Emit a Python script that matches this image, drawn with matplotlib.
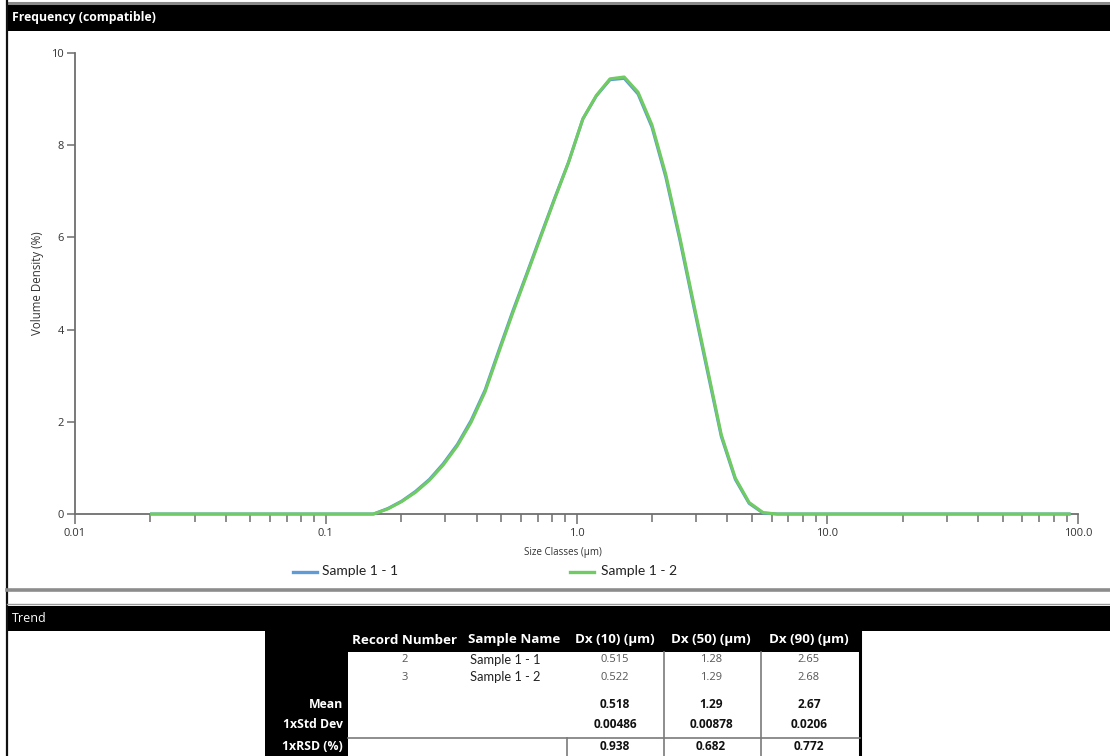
import matplotlib
matplotlib.use("Agg")
import matplotlib.pyplot as plt
from matplotlib.patches import Rectangle
from matplotlib.lines import Line2D
from matplotlib.ticker import FixedLocator, FixedFormatter, NullFormatter

# ---- particle size distribution (class mid-points, µm) ----
size_classes = [
    0.0202, 0.0229, 0.0260, 0.0296, 0.0336, 0.0382, 0.0434, 0.0493, 0.0561,
    0.0636, 0.0724, 0.0822, 0.0934, 0.106, 0.120, 0.137, 0.155, 0.177, 0.201,
    0.228, 0.259, 0.294, 0.335, 0.380, 0.432, 0.491, 0.557, 0.633, 0.719,
    0.818, 0.929, 1.06, 1.20, 1.36, 1.55, 1.76, 2.00, 2.27, 2.58, 2.93, 3.33,
    3.78, 4.30, 4.88, 5.55, 6.31, 7.17, 8.14, 9.25, 10.5, 11.9, 13.6, 15.4,
    17.5, 19.9, 22.6, 25.7, 29.2, 33.2, 37.7, 42.8, 48.6, 55.2, 62.7, 71.3,
    81.0, 92.1,
]

sample_1_1 = [
    0, 0, 0, 0, 0, 0, 0, 0, 0, 0, 0, 0, 0, 0, 0, 0, 0, 0.12, 0.28,
    0.49, 0.75, 1.09, 1.51, 2.03, 2.69, 3.56, 4.40, 5.21, 6.03,
    6.85, 7.63, 8.57, 9.07, 9.42, 9.45, 9.11, 8.39, 7.31, 5.96, 4.52, 3.09,
    1.68, 0.75, 0.23, 0.02, 0, 0, 0, 0, 0, 0, 0, 0,
    0, 0, 0, 0, 0, 0, 0, 0, 0, 0, 0, 0,
    0, 0,
]

sample_1_2 = [
    0, 0, 0, 0, 0, 0, 0, 0, 0, 0, 0, 0, 0, 0, 0, 0, 0, 0.11, 0.27,
    0.47, 0.73, 1.06, 1.48, 1.99, 2.65, 3.52, 4.36, 5.18, 6.00,
    6.83, 7.62, 8.57, 9.08, 9.44, 9.48, 9.15, 8.44, 7.37, 6.02, 4.58, 3.15,
    1.72, 0.78, 0.25, 0.03, 0, 0, 0, 0, 0, 0, 0, 0,
    0, 0, 0, 0, 0, 0, 0, 0, 0, 0, 0, 0,
    0, 0,
]

x_major = [0.01, 0.1, 1.0, 10.0, 100.0]
x_major_labels = ["0.01", "0.1", "1.0", "10.0", "100.0"]
y_major = [0, 2, 4, 6, 8, 10]

# ---- trend table ----
table_columns = ["Record Number", "Sample Name", "Dx (10) (µm)", "Dx (50) (µm)", "Dx (90) (µm)"]
record_numbers = ["2", "3"]
sample_names = ["Sample 1 - 1", "Sample 1 - 2"]
dx10 = ["0.515", "0.522"]
dx50 = ["1.28", "1.29"]
dx90 = ["2.65", "2.68"]
stat_labels = ["Mean", "1xStd Dev", "1xRSD (%)"]
stat_mean = ["0.518", "1.29", "2.67"]
stat_std = ["0.00486", "0.00878", "0.0206"]
stat_rsd = ["0.938", "0.682", "0.772"]

BLUE = "#5f9bd6"
GREEN = "#6fcb62"
AXIS = "#6e6e6e"

plt.rcParams["font.family"] = ["Open Sans", "DejaVu Sans"]

W, H = 1110, 756
fig = plt.figure(figsize=(W / 100, H / 100), dpi=100)
fig.patch.set_facecolor("white")


def fx(x):
    return x / W


def fy(y):
    return 1 - y / H


def rect(x0, y0, x1, y1, color, z=1):
    fig.patches.append(Rectangle((fx(x0), fy(y1)), fx(x1) - fx(x0), fy(y0) - fy(y1),
                                 transform=fig.transFigure, facecolor=color,
                                 edgecolor="none", zorder=z))


def hline(x0, x1, y, color, lw):
    fig.lines.append(Line2D([fx(x0), fx(x1)], [fy(y), fy(y)], transform=fig.transFigure,
                            color=color, linewidth=lw, zorder=3))


def vline(x, y0, y1, color, lw):
    fig.lines.append(Line2D([fx(x), fx(x)], [fy(y0), fy(y1)], transform=fig.transFigure,
                            color=color, linewidth=lw, zorder=3))


# ---- frame and panel headers ----
hline(7, W, 2.5, "#8a8a8a", 2.2)
vline(7, 0, H, "#111111", 1.6)
rect(7, 5, W, 31, "black")
fig.text(fx(12), fy(18), "Frequency (compatible)", color="white", fontsize=8.8,
         fontweight="bold", ha="left", va="center")

hline(7, W, 590, "#8c8c8c", 2.6)
hline(7, W, 604, "#9a9a9a", 1.0)
rect(7, 606, W, 631, "black")
fig.text(fx(12), fy(619), "Trend", color="white", fontsize=9, ha="left", va="center")

# ---- frequency plot ----
ax = fig.add_axes([fx(75), fy(514), fx(1078) - fx(75), fy(53) - fy(514)])
ax.patch.set_visible(False)
ax.set_xscale("log")
ax.set_xlim(0.01, 100)
ax.set_ylim(0, 10)

line1, = ax.plot(size_classes, sample_1_1, color=BLUE, linewidth=2.2,
                 label="Sample 1 - 1", clip_on=False, zorder=3)
line2, = ax.plot(size_classes, sample_1_2, color=GREEN, linewidth=2.2,
                 label="Sample 1 - 2", clip_on=False, zorder=4)

for side in ("top", "right"):
    ax.spines[side].set_visible(False)
for side in ("left", "bottom"):
    ax.spines[side].set_color(AXIS)
    ax.spines[side].set_linewidth(1.3)

ax.xaxis.set_major_locator(FixedLocator(x_major))
ax.xaxis.set_major_formatter(FixedFormatter(x_major_labels))
ax.xaxis.set_minor_formatter(NullFormatter())
ax.yaxis.set_major_locator(FixedLocator(y_major))
ax.set_yticklabels([str(v) for v in y_major])

ax.tick_params(axis="x", which="major", direction="out", length=7, width=1.1,
               color=AXIS, labelsize=8, labelcolor="#333333", pad=3)
ax.tick_params(axis="x", which="minor", direction="out", length=5.5, width=1.1,
               color=AXIS)
ax.tick_params(axis="y", which="major", direction="out", length=6, width=1.1,
               color=AXIS, labelsize=8, labelcolor="#333333", pad=2)

fig.text(fx(563), fy(553), "Size Classes (µm)", fontsize=7, color="#333333",
         ha="center", va="center")
fig.text(fx(38), fy(283), "Volume Density (%)", fontsize=8.3, color="#333333",
         ha="center", va="center", rotation=90)

# legend entries
for line, x0, xt in ((line1, 293, 322), (line2, 570, 601)):
    hline(x0, x0 + 24, 572, line.get_color(), 2.4)
    fig.text(fx(xt), fy(571), line.get_label(), fontsize=10, color="#222222",
             ha="left", va="center", family=["Lato", "DejaVu Sans"])

# ---- trend table ----
rect(265, 631, 860, 652, "black")
rect(265, 652, 348, H, "black")
rect(348, 652, 860, H, "white", z=0.5)
vline(859.5, 631, H, "black", 2.2)
for xv in (664, 761):
    vline(xv, 652, H, "#7a7a7a", 1.2)
vline(567, 738, H, "#7a7a7a", 1.2)
hline(348, 860, 737.5, "#7a7a7a", 1.2)

header_x = [405, 514, 615, 711, 809]
for label, xc in zip(table_columns, header_x):
    fig.text(fx(xc), fy(640), label, color="white", fontsize=9.6,
             fontweight="bold", ha="center", va="center")

row_y = [660, 677]
for i, yv in enumerate(row_y):
    fig.text(fx(405), fy(yv), record_numbers[i], color="#555555", fontsize=8,
             ha="center", va="center")
    fig.text(fx(470), fy(yv), sample_names[i], color="#222222", fontsize=9.3,
             ha="left", va="center", family=["Lato", "DejaVu Sans"])
    for xc, col in zip(header_x[2:], (dx10, dx50, dx90)):
        fig.text(fx(xc), fy(yv), col[i], color="#555555", fontsize=8,
                 ha="center", va="center")

stat_y = [705, 725, 746]
for label, yv, values in zip(stat_labels, stat_y, (stat_mean, stat_std, stat_rsd)):
    fig.text(fx(343), fy(yv), label, color="white", fontsize=8.8,
             fontweight="bold", ha="right", va="center")
    for xc, v in zip(header_x[2:], values):
        fig.text(fx(xc), fy(yv), v, color="#111111", fontsize=8.6,
                 fontweight="bold", ha="center", va="center")

fig.savefig("out.png", dpi=100)
